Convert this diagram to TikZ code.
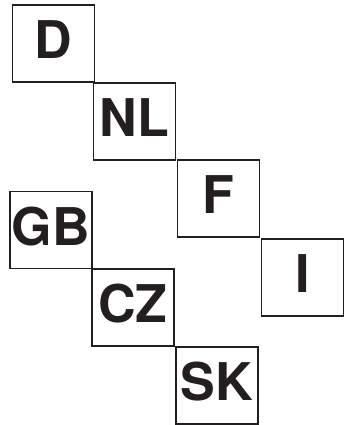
\documentclass[tikz,border=0pt]{standalone}
\usepackage{fontspec}
\setmainfont{TeX Gyre Heros}
\usepackage{xcolor}
\definecolor{Ink}{HTML}{231F20}
\tikzset{
 plate/.style={draw=Ink, line width=1.7pt, fill=white, minimum width=82pt, minimum height=77pt, inner sep=0pt, text height=36.6pt, text depth=6pt, text=Ink, font=\fontsize{52}{52}\selectfont\bfseries}
}
\begin{document}
\begin{tikzpicture}[x=1pt,y=-1pt]
\useasboundingbox (0,0) rectangle (353,425);
\foreach \name/\lbl/\x/\y in {d/D/53.5/43.5, nl/NL/134.5/121.5, f/F/218.5/198.5, i/I/302.5/277.5, gb/GB/51/230, cz/CZ/133/307.5, sk/SK/217/385.5}{\node[plate] (\name) at (\x,\y) {\lbl};}
\end{tikzpicture}
\end{document}
